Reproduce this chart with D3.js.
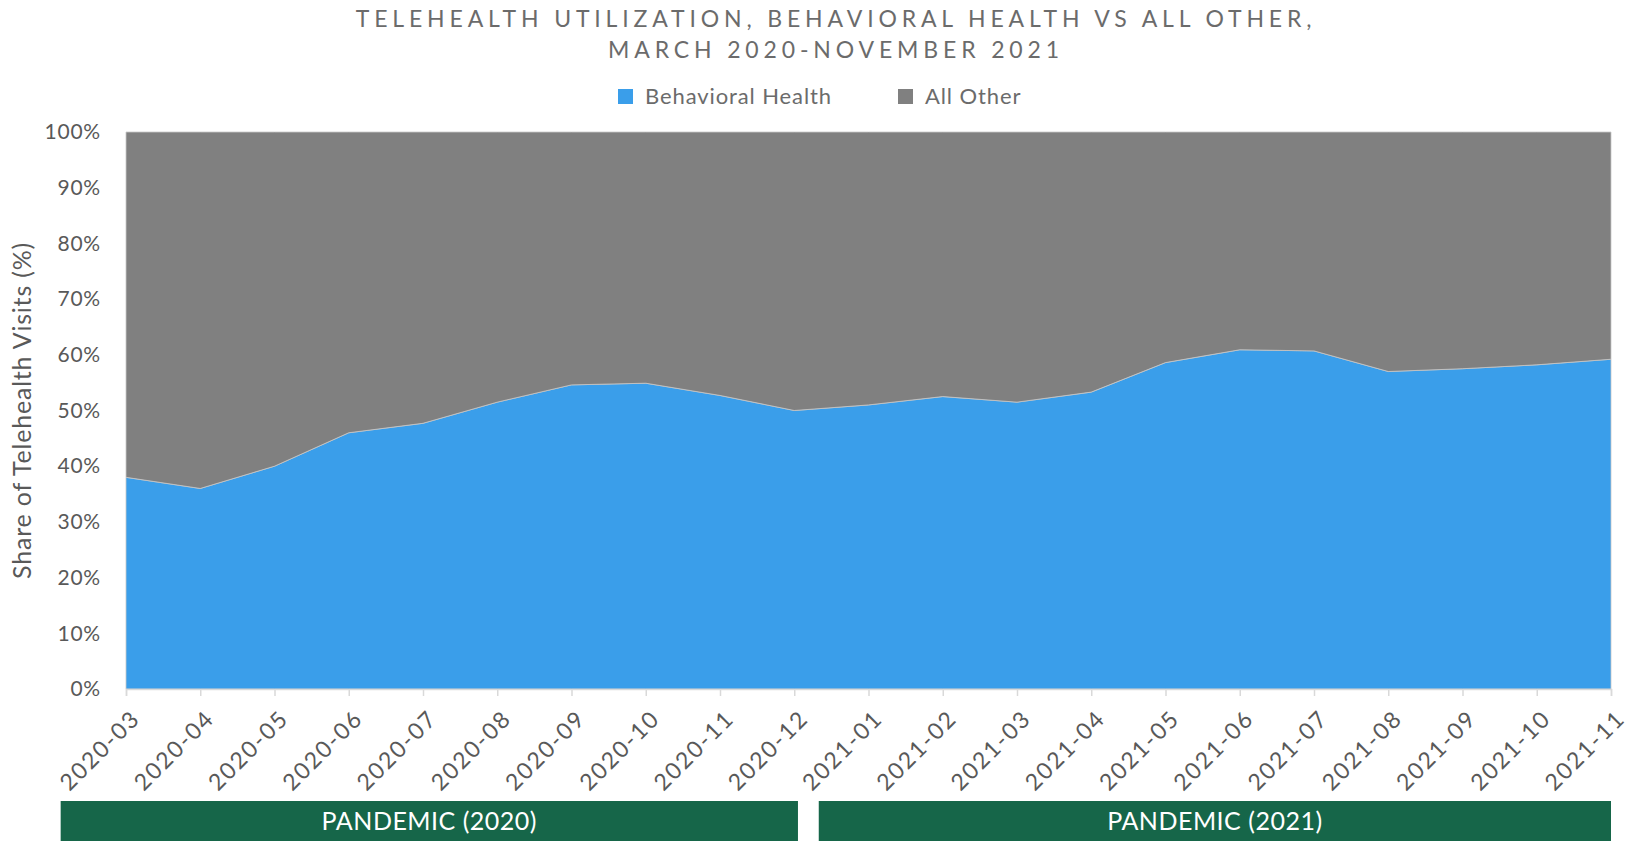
<!DOCTYPE html>
<html>
<head>
<meta charset="utf-8">
<script src="https://cdn.jsdelivr.net/npm/d3@7"></script>
<style>
  body { margin: 0; background: #fff; }
  text { font-family: Lato, "Open Sans", sans-serif; }
</style>
</head>
<body>
<div id="chart"></div>
<script>
// Data
const months = ["2020-03","2020-04","2020-05","2020-06","2020-07","2020-08","2020-09","2020-10","2020-11","2020-12",
  "2021-01","2021-02","2021-03","2021-04","2021-05","2021-06","2021-07","2021-08","2021-09","2021-10","2021-11"];
const behavioral = [38, 36, 40, 46, 47.7, 51.5, 54.6, 54.9, 52.7, 50,
  51, 52.5, 51.5, 53.3, 58.6, 60.9, 60.7, 57, 57.5, 58.2, 59.2];
const allOther = behavioral.map((v) => 100 - v);
const seriesNames = ["Behavioral Health", "All Other"];
const yTicks = [0, 10, 20, 30, 40, 50, 60, 70, 80, 90, 100];
const periods = [
  { label: "PANDEMIC (2020)", from: "2020-03", to: "2020-12" },
  { label: "PANDEMIC (2021)", from: "2021-01", to: "2021-11" },
];

function draw() {
  const dimensions = {
    width: 1629,
    height: 841,
    left: 126,
    right: 18,
    top: 132,
    bottom: 152,
  };
  dimensions.ctrWidth = dimensions.width - dimensions.left - dimensions.right;
  dimensions.ctrHeight = dimensions.height - dimensions.top - dimensions.bottom;

  const colors = ["#3a9eea", "#808080"];

  const svg = d3
    .select("#chart")
    .append("svg")
    .attr("width", dimensions.width)
    .attr("height", dimensions.height);

  // Title
  const title = svg
    .append("text")
    .attr("text-anchor", "middle")
    .attr("fill", "#6b6b6b")
    .style("font-size", "23px")
    .style("letter-spacing", "4.85px");
  title.append("tspan").attr("x", 836).attr("y", 27)
    .text("TELEHEALTH UTILIZATION, BEHAVIORAL HEALTH VS ALL OTHER,");
  title.append("tspan").attr("x", 836).attr("y", 58)
    .text("MARCH 2020-NOVEMBER 2021");

  // Legend
  const legendX = [618, 898];
  const legend = svg.selectAll(".legend").data(seriesNames).join("g")
    .attr("class", "legend")
    .attr("transform", (d, i) => `translate(${legendX[i]}, 89)`);
  legend.append("rect")
    .attr("width", 15).attr("height", 15)
    .attr("fill", (d, i) => colors[i]);
  legend.append("text")
    .attr("x", 27).attr("y", 15)
    .attr("fill", "#6b6b6b")
    .style("font-size", "22px")
    .style("letter-spacing", "0.9px")
    .text((d) => d);

  const ctr = svg.append("g")
    .attr("transform", `translate(${dimensions.left}, ${dimensions.top})`);

  // Scales
  const xScale = d3.scalePoint().domain(months).range([0, dimensions.ctrWidth]);
  const yScale = d3.scaleLinear().domain([0, 100]).range([dimensions.ctrHeight, 0]);

  // Stack
  const table = months.map((m, i) => ({
    month: m,
    "Behavioral Health": behavioral[i],
    "All Other": allOther[i],
  }));
  const stacked = d3.stack().keys(seriesNames)(table);

  const area = d3.area()
    .x((d) => xScale(d.data.month))
    .y0((d) => yScale(d[0]))
    .y1((d) => yScale(d[1]));

  ctr.selectAll("path.area").data(stacked).join("path")
    .attr("class", "area")
    .attr("fill", (d, i) => colors[i])
    .attr("stroke", "#c8c8c8")
    .attr("stroke-width", 0.8)
    .attr("d", area);

  // Y axis
  const yAxis = d3.axisLeft(yScale).tickValues(yTicks)
    .tickFormat((d) => d + "%").tickSize(0).tickPadding(25);
  const yG = ctr.append("g").call(yAxis);
  yG.select(".domain").remove();
  yG.selectAll("text")
    .attr("fill", "#595959")
    .style("font-size", "21px")
    .style("letter-spacing", "0.8px")
    .style("font-family", "Lato, sans-serif");

  // X axis
  const xAxis = d3.axisBottom(xScale).tickSize(7);
  const xG = ctr.append("g")
    .attr("transform", `translate(0, ${dimensions.ctrHeight})`)
    .call(xAxis);
  xG.select(".domain").attr("stroke", "#d9d9d9").attr("stroke-width", 1.5);
  xG.selectAll(".tick line").attr("stroke", "#d9d9d9").attr("stroke-width", 1.5);
  xG.selectAll("text")
    .attr("fill", "#595959")
    .style("font-size", "23px")
    .style("letter-spacing", "1.9px")
    .style("font-family", "Lato, sans-serif")
    .attr("text-anchor", "end")
    .attr("x", 0)
    .attr("y", 0)
    .attr("dy", 0)
    .attr("transform", "translate(15, 31) rotate(-45)");

  // Y axis title
  svg.append("text")
    .attr("transform", `translate(31, ${dimensions.top + dimensions.ctrHeight / 2}) rotate(-90)`)
    .attr("text-anchor", "middle")
    .attr("fill", "#595959")
    .style("font-size", "25px")
    .style("letter-spacing", "0.8px")
    .text("Share of Telehealth Visits (%)");

  // Period bars
  const step = xScale.step();
  const bars = svg.selectAll(".period").data(periods).join("g")
    .attr("class", "period");
  const bx0 = (d, i) => dimensions.left + xScale(d.from) - (i === 0 ? 0.88 * step : 0.67 * step);
  const bx1 = (d, i) => dimensions.left + xScale(d.to) + (i === 0 ? 0.05 * step : 0);
  bars.append("rect")
    .attr("x", bx0)
    .attr("y", 801)
    .attr("width", (d, i) => bx1(d, i) - bx0(d, i))
    .attr("height", 40)
    .attr("fill", "#166649");
  bars.append("text")
    .attr("x", (d, i) => (bx0(d, i) + bx1(d, i)) / 2)
    .attr("y", 830)
    .attr("text-anchor", "middle")
    .attr("fill", "#fff")
    .style("font-size", "25px")
    .style("letter-spacing", "0.5px")
    .text((d) => d.label);
}

draw();
</script>
</body>
</html>
